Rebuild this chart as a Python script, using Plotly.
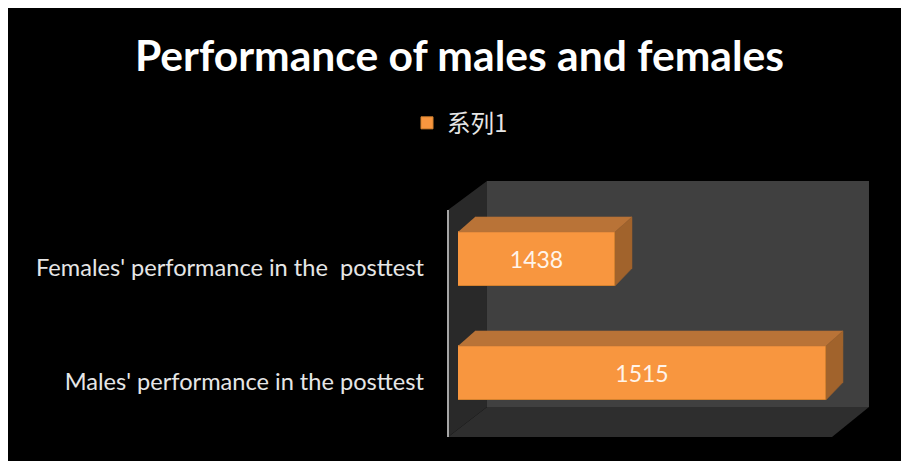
import plotly.graph_objects as go

categories = ["Males' performance in the posttest", "Females' performance in the  posttest"]
values = [1515, 1438]
series_name = "系列1"
title_text = "Performance of males and females"

W, H = 901, 461
AXIS_MIN, AXIS_MAX = 1380.7, 1530.7
HALF = 0.237
DX = 6.2
DY_TOP = 0.132
DY_BOTTOM = 0.155
LABEL_DROP = 0.025
positions = list(range(len(categories)))

FRONT, TOP, SIDE, EDGE = "#F8963F", "#B97337", "#A1632C", "#D5822F"
FONT = "Lato, Carlito, 'Open Sans', sans-serif"


def px(x):
    return x / W


def py(y):
    return 1 - y / H


def poly(points, color):
    path = "M " + " L ".join(f"{px(x):.5f},{py(y):.5f}" for x, y in points) + " Z"
    return dict(type="path", xref="paper", yref="paper", path=path,
                fillcolor=color, line=dict(width=0), layer="below")


fig = go.Figure()

for p, v in zip(positions, values):
    fig.add_trace(go.Scatter(
        x=[AXIS_MIN, v, v + DX, AXIS_MIN + DX],
        y=[p + HALF, p + HALF, p + HALF + DY_TOP, p + HALF + DY_TOP],
        mode="lines", fill="toself", fillcolor=TOP, line=dict(width=0.5, color=TOP),
        showlegend=False, hoverinfo="skip"))
    fig.add_trace(go.Scatter(
        x=[v, v + DX, v + DX, v],
        y=[p + HALF, p + HALF + DY_TOP, p - HALF + DY_BOTTOM, p - HALF],
        mode="lines", fill="toself", fillcolor=SIDE, line=dict(width=0.5, color=SIDE),
        showlegend=False, hoverinfo="skip"))

fig.add_trace(go.Bar(
    y=positions, x=values, orientation="h", width=2 * HALF, name=series_name,
    marker=dict(color=FRONT, line=dict(width=1, color=EDGE)),
    showlegend=True, hoverinfo="skip"))

fig.add_trace(go.Scatter(
    x=[(AXIS_MIN + v) / 2 for v in values], y=[p - LABEL_DROP for p in positions],
    text=[str(v) for v in values], mode="text", textposition="middle center",
    textfont=dict(family=FONT, size=23, color="#FFF4EA"),
    showlegend=False, hoverinfo="skip"))

# carries the category labels on their own axis, a few pixels under the bar centres
fig.add_trace(go.Scatter(
    x=values, y=positions, yaxis="y2", mode="none",
    showlegend=False, hoverinfo="skip"))

shapes = [
    poly([(8, 8), (901, 8), (901, 461), (8, 461)], "#000000"),
    poly([(487, 181), (869, 181), (869, 407), (487, 407)], "#404040"),
    poly([(448, 210), (487, 181), (487, 407), (448, 437)], "#292929"),
    poly([(448, 437), (832, 437), (869, 407), (487, 407)], "#2E2E2E"),
    dict(type="line", xref="paper", yref="paper", x0=px(448), x1=px(448), y0=py(210), y1=py(437),
         line=dict(color="#A6A6A6", width=2), layer="below"),
]

fig.update_layout(
    width=W, height=H, autosize=False,
    margin=dict(l=0, r=0, t=0, b=0),
    paper_bgcolor="#FFFFFF", plot_bgcolor="rgba(0,0,0,0)",
    shapes=shapes,
    title=dict(text=f"<b>{title_text}</b>", x=px(459.5), xref="paper", xanchor="center",
               y=py(56), yref="paper", yanchor="middle",
               font=dict(family=FONT, size=42.6, color="#FFFFFF")),
    xaxis=dict(domain=[px(458), px(869)], range=[AXIS_MIN, AXIS_MAX], visible=False),
    yaxis=dict(domain=[py(430), py(202)], range=[-0.5, 1.5], visible=False),
    yaxis2=dict(domain=[py(438.5), py(210.5)], range=[-0.5, 1.5], anchor="free", position=px(424),
                tickmode="array", tickvals=positions, ticktext=categories,
                showgrid=False, zeroline=False, showline=False, ticks="",
                tickfont=dict(family=FONT, size=23.6, color="#E6E6E6")),
    legend=dict(x=px(407), xanchor="left", y=py(123), yanchor="middle", orientation="h",
                bgcolor="rgba(0,0,0,0)",
                font=dict(family="'Noto Sans CJK SC', sans-serif", size=23.6, color="#E6E6E6")),
    bargap=0,
)

fig.write_html("out.html", config=dict(displayModeBar=False),
               post_script="document.body.style.margin='0';")
